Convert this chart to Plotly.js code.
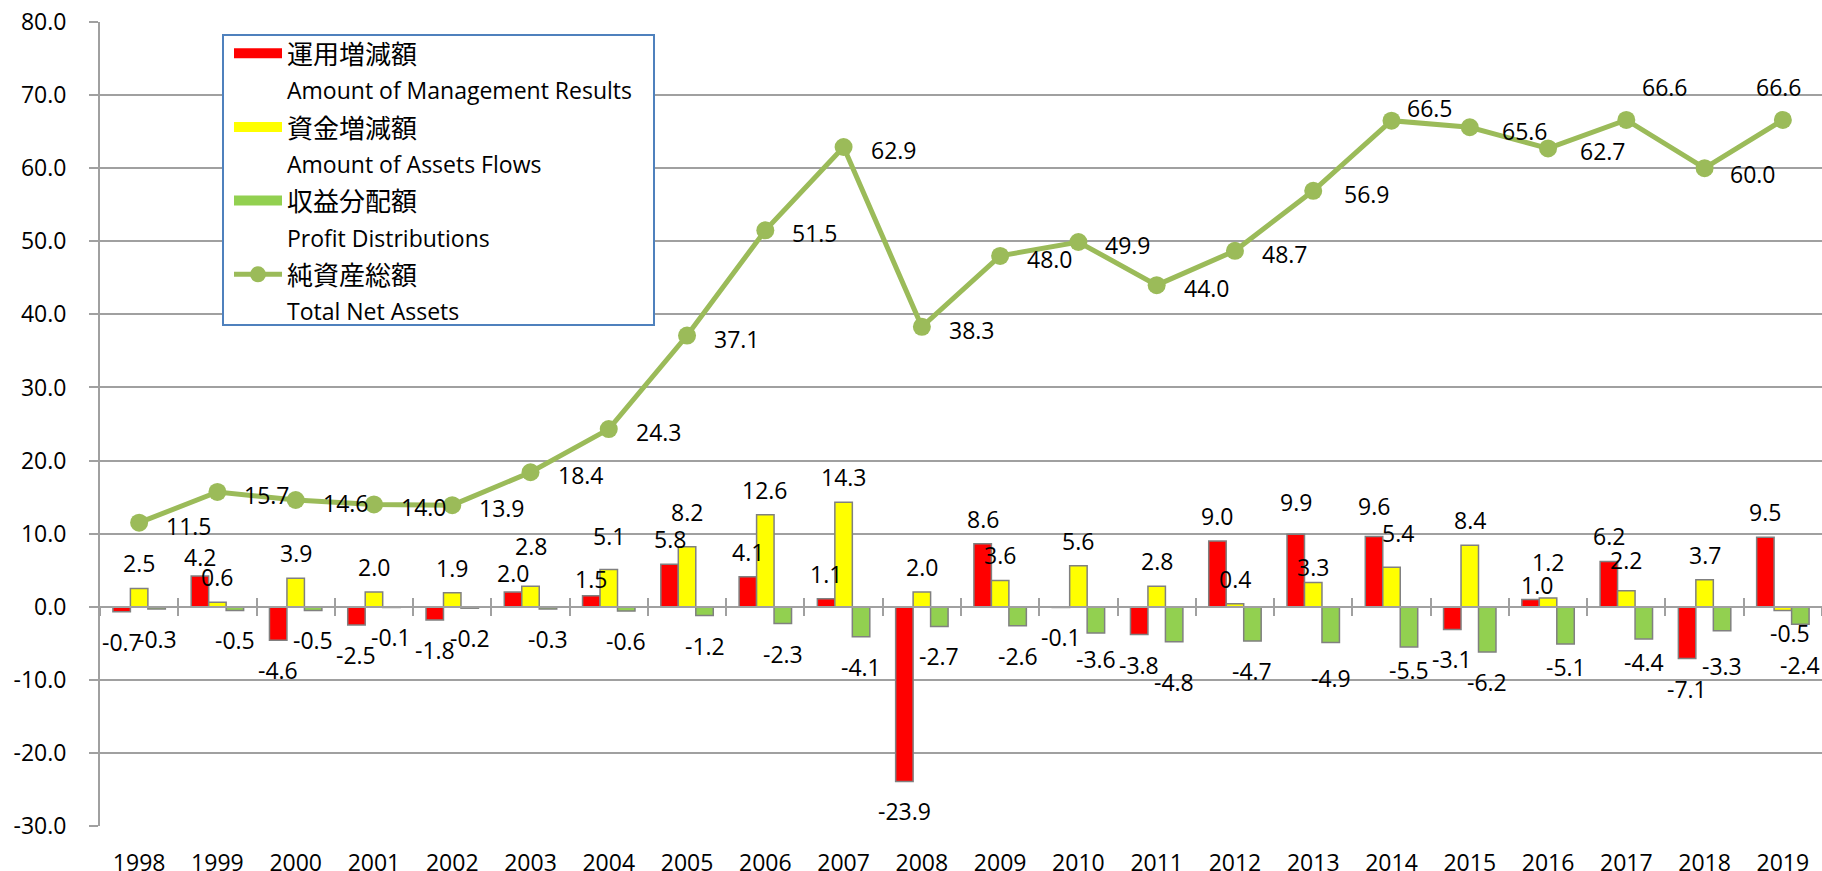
<!DOCTYPE html>
<html>
<head>
<meta charset="utf-8">
<script src="https://cdn.plot.ly/plotly-3.0.1.min.js"></script>
<style>
html,body{margin:0;padding:0;background:#fff;overflow:hidden}
#chart{width:1822px;height:871px}
</style>
</head>
<body>
<div id="chart"></div>
<script>
// ---- data ----
const years = ['1998','1999','2000','2001','2002','2003','2004','2005','2006','2007','2008',
               '2009','2010','2011','2012','2013','2014','2015','2016','2017','2018','2019'];
const mgmtResults = [-0.7, 4.2, -4.6, -2.5, -1.8, 2.0, 1.5, 5.8, 4.1, 1.1, -23.9,
                     8.6, -0.1, -3.8, 9.0, 9.9, 9.6, -3.1, 1.0, 6.2, -7.1, 9.5];
const assetFlows = [2.5, 0.6, 3.9, 2.0, 1.9, 2.8, 5.1, 8.2, 12.6, 14.3, 2.0,
                    3.6, 5.6, 2.8, 0.4, 3.3, 5.4, 8.4, 1.2, 2.2, 3.7, -0.5];
const profitDist = [-0.3, -0.5, -0.5, -0.1, -0.2, -0.3, -0.6, -1.2, -2.3, -4.1, -2.7,
                    -2.6, -3.6, -4.8, -4.7, -4.9, -5.5, -6.2, -5.1, -4.4, -3.3, -2.4];
const netAssets = [11.5, 15.7, 14.6, 14.0, 13.9, 18.4, 24.3, 37.1, 51.5, 62.9, 38.3,
                   48.0, 49.9, 44.0, 48.7, 56.9, 66.5, 65.6, 62.7, 66.6, 60.0, 66.6];
const namesJa = ['運用増減額', '資金増減額', '収益分配額', '純資産総額'];
const namesEn = ['Amount of Management Results', 'Amount of Assets Flows', 'Profit Distributions', 'Total Net Assets'];
const yTickVals = [-30, -20, -10, 0, 10, 20, 30, 40, 50, 60, 70, 80];

// ---- style ----
const W = 1822, H = 871;
const margin = {l: 100, r: 0, t: 22, b: 45};
const plotW = W - margin.l - margin.r, plotH = H - margin.t - margin.b;
const yRange = [-30, 80];
const xRange = [-0.5, years.length - 0.5];
const bargap = 0.33;
const catW = plotW / years.length;
const barW = catW * (1 - bargap) / 3;
const gridCol = '#a0a0a0';
const FONT = 'Open Sans, Noto Sans CJK JP, sans-serif';
const barColors = ['#FF0000', '#FFFF00', '#92D050'];
const lineColor = '#9BBB59';
// label offsets (px): line labels sit to the right of the points
const lineLabelDefault = {dx: 25, dy: -3, anchor: 'left'};
const lineLabelOverride = {
  '2013': {dx: 29, dy: -3, anchor: 'left'},
  '2014': {dx: 13, dy: 13, anchor: 'left'},
  '2015': {dx: 30, dy: -4, anchor: 'left'},
  '2016': {dx: 30, dy: -3, anchor: 'left'},
  '2017': {dx: 14, dy: 33, anchor: 'left'},
  '2018': {dx: 23, dy: -6, anchor: 'left'},
  '2019': {dx: -4, dy: 33, anchor: 'center'}
};
// bar labels: default vertical offset outside the bar end, with a few tweaks
const barLabelUp = 25, barLabelDown = -30;
const barLabelOverride = {
  '1999:0': {dy: 19}, '2003:0': {dy: 19}, '2003:1': {dy: 40},
  '2004:0': {dy: 17}, '2004:1': {dy: 33}, '2005:1': {dy: 35},
  '2013:0': {dy: 32}, '2013:1': {dy: 16}, '2014:0': {dy: 31}, '2014:1': {dy: 34, dx: 6},
  '2016:0': {dy: 14, dx: 6}, '2016:1': {dy: 36}, '2017:1': {dy: 31},
  '2010:2': {dy: -26}, '2011:2': {dy: -40}, '2013:2': {dy: -35}, '2014:2': {dy: -23},
  '2016:2': {dy: -23}, '2017:2': {dy: -23}, '2018:2': {dy: -35},
  '2019:1': {dy: -23, dx: 7}, '2019:2': {dy: -41}
};
// legend box in pixels
const legendBox = {x0: 223, y0: 35, x1: 654, y1: 325};
const legendItemsLeft = 229, legendItemsTop = 29;

function legendName(i) {
  return '<span style="font-size:26px">' + namesJa[i] + '</span><br>' +
         '<span style="font-size:23px">' + namesEn[i] + '</span>';
}

const barData = [mgmtResults, assetFlows, profitDist];
const traces = [];
// legend swatches for the bar series (wide coloured bars as in the original legend)
barData.forEach((vals, i) => traces.push({
  type: 'scatter', mode: 'lines', x: [null], y: [null], name: legendName(i),
  line: {color: barColors[i], width: 15}, hoverinfo: 'skip'
}));
barData.forEach((vals, i) => traces.push({
  type: 'bar', x: years, y: vals, name: namesJa[i], showlegend: false,
  marker: {color: barColors[i], line: {color: '#808080', width: 1.5}},
  hoverinfo: 'skip'
}));
traces.push({
  type: 'scatter', mode: 'lines+markers', x: years, y: netAssets, name: legendName(3),
  line: {color: lineColor, width: 5},
  marker: {color: lineColor, size: 18},
  hoverinfo: 'skip'
});
// helper traces so the zero-line axes (with crossing ticks) are drawn
['x2', 'x3'].forEach(ax => traces.push({
  type: 'scatter', mode: 'markers', x: years, y: years.map(() => null),
  xaxis: ax, yaxis: 'y', showlegend: false, hoverinfo: 'skip'
}));

const annotations = [];
const labelFont = {family: FONT, size: 23, color: '#000'};
barData.forEach((vals, k) => {
  vals.forEach((v, j) => {
    const o = barLabelOverride[years[j] + ':' + k] || {};
    annotations.push({
      x: j, y: v, xref: 'x', yref: 'y', text: v.toFixed(1), showarrow: false,
      xanchor: 'center', yanchor: 'middle', xshift: (k - 1) * barW + (o.dx || 0),
      yshift: o.dy !== undefined ? o.dy : (v >= 0 ? barLabelUp : barLabelDown), font: labelFont
    });
  });
});
netAssets.forEach((v, j) => {
  const o = lineLabelOverride[years[j]] || lineLabelDefault;
  annotations.push({
    x: j, y: v, xref: 'x', yref: 'y', text: v.toFixed(1), showarrow: false,
    xanchor: o.anchor, yanchor: 'middle', xshift: o.dx, yshift: o.dy, font: labelFont
  });
});

const zeroPos = (0 - yRange[0]) / (yRange[1] - yRange[0]);
const zeroAxis = (ticks) => ({
  type: 'category', categoryorder: 'array', categoryarray: years, range: xRange,
  overlaying: 'x', anchor: 'free', position: zeroPos,
  showline: true, linecolor: gridCol, linewidth: 2,
  ticks: ticks, tickson: 'boundaries', ticklen: 8, tickwidth: 2, tickcolor: gridCol,
  showticklabels: false, showgrid: false, zeroline: false
});

const layout = {
  width: W, height: H, margin: margin,
  paper_bgcolor: '#fff', plot_bgcolor: '#fff',
  font: {family: FONT, size: 23, color: '#000'},
  barmode: 'group', bargap: bargap, bargroupgap: 0,
  showlegend: true,
  legend: {
    x: (legendItemsLeft - margin.l) / plotW,
    y: 1 - (legendItemsTop - margin.t) / plotH,
    xanchor: 'left', yanchor: 'top',
    bgcolor: 'rgba(0,0,0,0)', borderwidth: 0,
    font: {family: FONT, size: 27.2, color: '#000'},
    itemwidth: 48, valign: 'top', tracegroupgap: 0, traceorder: 'normal'
  },
  shapes: [{
    type: 'rect', xref: 'paper', yref: 'paper', layer: 'above',
    x0: (legendBox.x0 - margin.l) / plotW, x1: (legendBox.x1 - margin.l) / plotW,
    y0: 1 - (legendBox.y1 - margin.t) / plotH, y1: 1 - (legendBox.y0 - margin.t) / plotH,
    fillcolor: '#fff', line: {color: '#4f81bd', width: 2}
  }],
  xaxis: {
    type: 'category', categoryorder: 'array', categoryarray: years, range: xRange,
    showgrid: false, zeroline: false, showline: false,
    ticks: '', ticklabelstandoff: 21, tickfont: {family: FONT, size: 23}
  },
  xaxis2: zeroAxis('outside'),
  xaxis3: zeroAxis('inside'),
  yaxis: {
    range: yRange, tickvals: yTickVals, ticktext: yTickVals.map(v => v.toFixed(1)),
    showgrid: true, gridcolor: gridCol, gridwidth: 2,
    showline: true, linecolor: gridCol, linewidth: 2,
    ticks: 'outside', ticklen: 9, tickwidth: 2, tickcolor: gridCol,
    ticklabelstandoff: 18, zeroline: false, tickfont: {family: FONT, size: 23}
  },
  annotations: annotations
};

Plotly.newPlot('chart', traces, layout, {staticPlot: true, displayModeBar: false});
</script>
</body>
</html>
